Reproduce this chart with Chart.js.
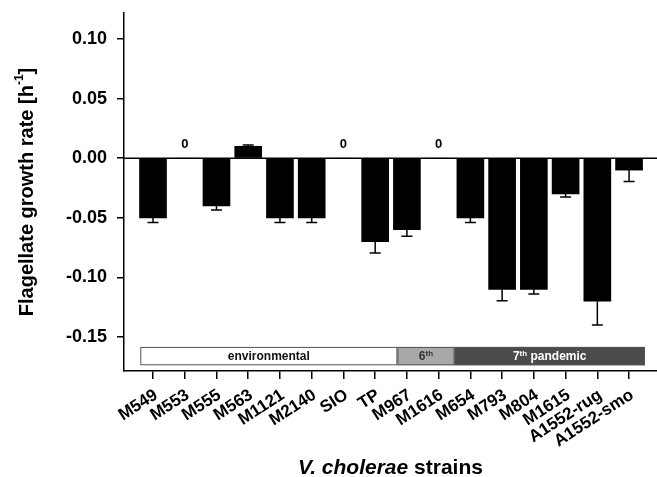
<!DOCTYPE html>
<html>
<head>
<meta charset="utf-8">
<script src="https://cdn.jsdelivr.net/npm/chart.js@4.4.1/dist/chart.umd.min.js"></script>
<style>
  html, body { margin: 0; padding: 0; background: #fff; }
  canvas { display: block; }
</style>
</head>
<body>
<canvas id="c" width="657" height="477"></canvas>
<script>
// ---- data ----
const strains = ['M549','M553','M555','M563','M1121','M2140','SIO','TP','M967','M1616','M654','M793','M804','M1615','A1552-rug','A1552-smo'];
const growth  = [-0.05, 0, -0.04, 0.01, -0.05, -0.05, 0, -0.07, -0.06, 0, -0.05, -0.11, -0.11, -0.03, -0.12, -0.01];
const errors  = [0.004, 0, 0.0035, 0.001, 0.004, 0.004, 0, 0.0095, 0.0055, 0, 0.004, 0.0095, 0.004, 0.0025, 0.02, 0.0095];
const yTicks  = [-0.15, -0.10, -0.05, 0.00, 0.05, 0.10];
const groupNames = ['environmental', '6th', '7th pandemic'];
const groupFrom  = [-0.4, 7.7, 9.5];
const groupTo    = [7.7, 9.5, 15.5];
const yTitle = 'Flagellate growth rate';
const xTitleItalic = 'V. cholerae';
const xTitleRest = ' strains';

const FONT = '"Liberation Sans", Arial, Helvetica, sans-serif';

const overlay = {
  id: 'overlay',
  afterDatasetsDraw(chart) {
    const ctx = chart.ctx;
    const xs = chart.scales.x, ys = chart.scales.y;
    const area = chart.chartArea;
    ctx.save();
    // zero line
    const y0 = ys.getPixelForValue(0);
    ctx.strokeStyle = '#000';
    ctx.lineWidth = 1.5;
    ctx.beginPath();
    ctx.moveTo(area.left, y0);
    ctx.lineTo(area.right, y0);
    ctx.stroke();
    // error bars and zero labels
    growth.forEach((v, i) => {
      const x = xs.getPixelForValue(i);
      if (v === 0) {
        ctx.fillStyle = '#000';
        ctx.font = 'bold 13px ' + FONT;
        ctx.textAlign = 'center';
        ctx.textBaseline = 'bottom';
        ctx.fillText('0', x, y0 - 7);
        return;
      }
      const sign = v < 0 ? -1 : 1;
      const yA = ys.getPixelForValue(v);
      const yB = ys.getPixelForValue(v + sign * errors[i]);
      ctx.strokeStyle = '#000';
      ctx.lineWidth = 1.5;
      ctx.beginPath();
      ctx.moveTo(x, yA);
      ctx.lineTo(x, yB);
      ctx.moveTo(x - 5.5, yB);
      ctx.lineTo(x + 5.5, yB);
      ctx.stroke();
    });
    // group band
    const top = ys.getPixelForValue(-0.1583);
    const bot = ys.getPixelForValue(-0.1737);
    const fills = ['#ffffff', '#a8a8a8', '#4b4b4b'];
    const txtCol = ['#111', '#333', '#ffffff'];
    groupNames.forEach((name, g) => {
      const l = xs.getPixelForValue(groupFrom[g]);
      const r = xs.getPixelForValue(groupTo[g]);
      ctx.fillStyle = fills[g];
      ctx.fillRect(l, top, r - l, bot - top);
      ctx.strokeStyle = '#555';
      ctx.lineWidth = 1;
      ctx.strokeRect(l + 0.5, top + 0.5, r - l - 1, bot - top - 1);
      const cx = (l + r) / 2, cy = (top + bot) / 2 + 0.5;
      ctx.fillStyle = txtCol[g];
      ctx.textBaseline = 'middle';
      ctx.textAlign = 'left';
      const m = name.match(/^(\d)(th)(.*)$/);
      if (m) {
        ctx.font = 'bold 12px ' + FONT;
        const w1 = ctx.measureText(m[1]).width;
        const w3 = ctx.measureText(m[3]).width;
        ctx.font = 'bold 8px ' + FONT;
        const w2 = ctx.measureText(m[2]).width;
        let x0 = cx - (w1 + w2 + w3) / 2;
        ctx.font = 'bold 12px ' + FONT;
        ctx.fillText(m[1], x0, cy);
        ctx.font = 'bold 8px ' + FONT;
        ctx.fillText(m[2], x0 + w1, cy - 3);
        ctx.font = 'bold 12px ' + FONT;
        ctx.fillText(m[3], x0 + w1 + w2, cy);
      } else {
        ctx.font = 'bold 12px ' + FONT;
        ctx.textAlign = 'center';
        ctx.fillText(name, cx, cy);
      }
    });
    ctx.restore();
  },
  afterDraw(chart) {
    const ctx = chart.ctx;
    const area = chart.chartArea;
    ctx.save();
    ctx.fillStyle = '#000';
    // y title with superscript
    ctx.translate(27, (area.top + area.bottom) / 2);
    ctx.rotate(-Math.PI / 2);
    ctx.textBaseline = 'middle';
    ctx.textAlign = 'left';
    const p1 = yTitle + ' [h';
    const p2 = '-1';
    const p3 = ']';
    ctx.font = 'bold 20px ' + FONT;
    const w1 = ctx.measureText(p1).width, w3 = ctx.measureText(p3).width;
    ctx.font = 'bold 12px ' + FONT;
    const w2 = ctx.measureText(p2).width;
    let x0 = -(w1 + w2 + w3) / 2;
    ctx.font = 'bold 20px ' + FONT;
    ctx.fillText(p1, x0, 0);
    ctx.font = 'bold 12px ' + FONT;
    ctx.fillText(p2, x0 + w1, -7);
    ctx.font = 'bold 20px ' + FONT;
    ctx.fillText(p3, x0 + w1 + w2, 0);
    ctx.restore();

    // x title
    ctx.save();
    ctx.fillStyle = '#000';
    ctx.textBaseline = 'alphabetic';
    ctx.textAlign = 'left';
    ctx.font = 'italic bold 21px ' + FONT;
    const a = ctx.measureText(xTitleItalic).width;
    ctx.font = 'bold 21px ' + FONT;
    const b = ctx.measureText(xTitleRest).width;
    const cx = (area.left + area.right) / 2;
    const xs0 = cx - (a + b) / 2;
    ctx.font = 'italic bold 21px ' + FONT;
    ctx.fillText(xTitleItalic, xs0, 474);
    ctx.font = 'bold 21px ' + FONT;
    ctx.fillText(xTitleRest, xs0 + a, 474);
    ctx.restore();
  }
};

new Chart(document.getElementById('c'), {
  type: 'bar',
  data: {
    datasets: [{
      data: strains.map((s, i) => ({ x: i, y: growth[i] })),
      backgroundColor: '#000',
      borderWidth: 0,
      barThickness: 27
    }]
  },
  options: {
    responsive: false,
    animation: false,
    devicePixelRatio: 1,
    layout: { padding: { left: 0, right: 0, top: 13, bottom: 0 } },
    plugins: { legend: { display: false }, tooltip: { enabled: false } },
    scales: {
      x: {
        type: 'linear',
        offset: false,
        min: -0.914,
        max: 15.88,
        afterBuildTicks: s => { s.ticks = strains.map((n, i) => ({ value: i })); },
        afterFit: s => { s.height = 106; s.paddingLeft = 0; s.paddingRight = 0; },
        grid: { offset: false, drawOnChartArea: false, drawTicks: true, tickLength: 8, color: '#000', lineWidth: 1.5 },
        border: { display: true, color: '#000', width: 1.5 },
        ticks: {
          autoSkip: false,
          maxRotation: 33,
          minRotation: 33,
          padding: 6,
          labelOffset: 3,
          color: '#000',
          font: { family: FONT, size: 17, weight: 'bold' },
          callback: v => strains[v] !== undefined ? strains[v] : ''
        }
      },
      y: {
        min: -0.1785,
        max: 0.1218,
        afterBuildTicks: s => { s.ticks = yTicks.map(v => ({ value: v })); },
        afterFit: s => { s.width = 124; s.paddingTop = 0; s.paddingBottom = 0; },
        grid: { drawOnChartArea: false, drawTicks: true, tickLength: 7, color: '#000', lineWidth: 1.5 },
        border: { display: true, color: '#000', width: 1.5 },
        ticks: {
          padding: 10,
          color: '#000',
          font: { family: FONT, size: 18, weight: 'bold' },
          callback: v => (Math.abs(v) < 1e-9 ? 0 : v).toFixed(2)
        }
      }
    }
  },
  plugins: [overlay]
});
</script>
</body>
</html>
